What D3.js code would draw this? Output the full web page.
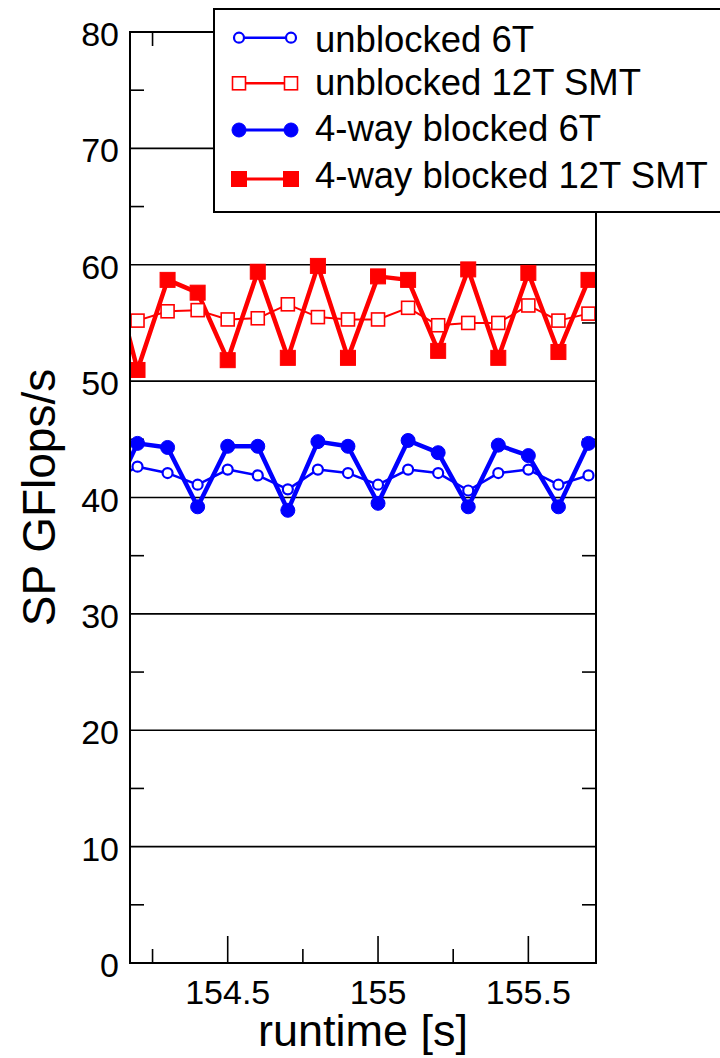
<!DOCTYPE html>
<html lang="en">
<head>
    <meta charset="UTF-8">
    <title>SP GFlops/s vs runtime</title>
    <script src="https://d3js.org/d3.v7.min.js"></script>
    <style>
        body { margin: 0; background: #fff; }
        svg text { font-family: "Liberation Sans", Arial, Helvetica, sans-serif; fill: #000; }
    </style>
</head>
<body>
    <svg id="chart"></svg>
    <script>
        const width = 720;
        const height = 1058;

        // sample times (154.1 lies just left of the visible range, clipped)
        const times = [154.1, 154.2, 154.3, 154.4, 154.5, 154.6, 154.7, 154.8, 154.9,
                       155.0, 155.1, 155.2, 155.3, 155.4, 155.5, 155.6, 155.7];

        const unblocked6T = [41.2, 42.65, 42.1, 41.1, 42.4, 41.9, 40.7, 42.4, 42.1,
                             41.1, 42.4, 42.1, 40.6, 42.1, 42.4, 41.1, 41.9];
        const unblocked12T = [55.8, 55.2, 56.0, 56.1, 55.3, 55.4, 56.6, 55.5, 55.3,
                              55.3, 56.3, 54.8, 55.0, 55.0, 56.5, 55.2, 55.8];
        const blocked6T = [39.2, 44.65, 44.3, 39.2, 44.4, 44.4, 38.9, 44.8, 44.4,
                           39.5, 44.9, 43.85, 39.2, 44.5, 43.6, 39.2, 44.65];
        const blocked12T = [61.0, 50.96, 58.7, 57.6, 51.8, 59.4, 52.0, 59.9, 52.0,
                            59.0, 58.7, 52.6, 59.6, 52.0, 59.3, 52.5, 58.7];

        const xMajor = [154.5, 155, 155.5];
        const xMinor = [154.25, 154.75, 155.25];
        const yMajor = [0, 10, 20, 30, 40, 50, 60, 70, 80];
        const yMinor = [5, 15, 25, 35, 45, 55, 65, 75];

        const seriesNames = ['unblocked 6T', 'unblocked 12T SMT', '4-way blocked 6T', '4-way blocked 12T SMT'];

        const pLeft = 130, pRight = 596, pTop = 32, pBottom = 963;

        const svg = d3.select('#chart')
            .attr('width', width)
            .attr('height', height);

        const x = d3.scaleLinear().domain([154.175, 155.725]).range([pLeft, pRight]);
        const y = d3.scaleLinear().domain([0, 80]).range([pBottom, pTop]);

        const series = [
            { name: seriesNames[0], values: unblocked6T, color: '#0000ff', lw: 2.5, shape: 'circle', filled: false, size: 5 },
            { name: seriesNames[1], values: unblocked12T, color: '#ff0000', lw: 2, shape: 'square', filled: false, size: 13 },
            { name: seriesNames[2], values: blocked6T, color: '#0000ff', lw: 4.5, shape: 'circle', filled: true, size: 7 },
            { name: seriesNames[3], values: blocked12T, color: '#ff0000', lw: 4.5, shape: 'square', filled: true, size: 15 }
        ];
        // filled series underneath, open ones drawn on top
        const drawOrder = [2, 3, 0, 1];

        // gridlines at major y values
        svg.append('g')
            .selectAll('line')
            .data(yMajor.filter(v => v > 0 && v < 80))
            .join('line')
            .attr('x1', pLeft).attr('x2', pRight)
            .attr('y1', d => y(d)).attr('y2', d => y(d))
            .attr('stroke', '#000').attr('stroke-width', 1.6);

        // minor y ticks, left and right
        const ticks = svg.append('g').attr('stroke', '#000').attr('stroke-width', 1.6);
        yMinor.forEach(v => {
            ticks.append('line').attr('x1', pLeft).attr('x2', pLeft + 14).attr('y1', y(v)).attr('y2', y(v));
            ticks.append('line').attr('x1', pRight).attr('x2', pRight - 14).attr('y1', y(v)).attr('y2', y(v));
        });
        // x ticks, bottom and top
        xMajor.forEach(v => {
            ticks.append('line').attr('x1', x(v)).attr('x2', x(v)).attr('y1', pBottom).attr('y2', pBottom - 27);
            ticks.append('line').attr('x1', x(v)).attr('x2', x(v)).attr('y1', pTop).attr('y2', pTop + 27);
        });
        xMinor.forEach(v => {
            ticks.append('line').attr('x1', x(v)).attr('x2', x(v)).attr('y1', pBottom).attr('y2', pBottom - 14);
            ticks.append('line').attr('x1', x(v)).attr('x2', x(v)).attr('y1', pTop).attr('y2', pTop + 14);
        });

        // data
        svg.append('clipPath').attr('id', 'plotClip')
            .append('rect').attr('x', pLeft).attr('y', pTop)
            .attr('width', pRight - pLeft).attr('height', pBottom - pTop);

        const plot = svg.append('g').attr('clip-path', 'url(#plotClip)');
        const line = d3.line().x((d, i) => x(times[i])).y(d => y(d));

        function drawMarker(g, s, cx, cy) {
            if (s.shape === 'circle') {
                g.append('circle')
                    .attr('cx', cx).attr('cy', cy).attr('r', s.size)
                    .attr('fill', s.filled ? s.color : '#fff')
                    .attr('stroke', s.color)
                    .attr('stroke-width', s.filled ? 1 : 2.2);
            } else {
                g.append('rect')
                    .attr('x', cx - s.size / 2).attr('y', cy - s.size / 2)
                    .attr('width', s.size).attr('height', s.size)
                    .attr('fill', s.filled ? s.color : '#fff')
                    .attr('stroke', s.color)
                    .attr('stroke-width', s.filled ? 1 : 1.6);
            }
        }

        drawOrder.forEach(k => {
            const s = series[k];
            plot.append('path')
                .datum(s.values)
                .attr('d', line)
                .attr('fill', 'none')
                .attr('stroke', s.color)
                .attr('stroke-width', s.lw)
                .attr('stroke-linejoin', 'round');
            const mg = plot.append('g');
            s.values.forEach((v, i) => drawMarker(mg, s, x(times[i]), y(v)));
        });

        // frame
        svg.append('rect')
            .attr('x', pLeft).attr('y', pTop)
            .attr('width', pRight - pLeft).attr('height', pBottom - pTop)
            .attr('fill', 'none').attr('stroke', '#000').attr('stroke-width', 2);

        // tick labels
        svg.append('g')
            .selectAll('text')
            .data(xMajor)
            .join('text')
            .attr('x', d => x(d)).attr('y', 1004)
            .attr('text-anchor', 'middle')
            .style('font-size', '34px')
            .text(d => d);

        svg.append('g')
            .selectAll('text')
            .data(yMajor)
            .join('text')
            .attr('x', 119).attr('y', d => y(d) + 14)
            .attr('text-anchor', 'end')
            .style('font-size', '34px')
            .text(d => d);

        // axis titles
        svg.append('text')
            .attr('x', (pLeft + pRight) / 2).attr('y', 1046)
            .attr('text-anchor', 'middle')
            .style('font-size', '45px')
            .text('runtime [s]');

        svg.append('text')
            .attr('transform', 'translate(55,' + ((pTop + pBottom) / 2) + ') rotate(-90)')
            .attr('text-anchor', 'middle')
            .style('font-size', '46px')
            .text('SP GFlops/s');

        // legend
        const legend = svg.append('g');
        legend.append('rect')
            .attr('x', 214).attr('y', 9)
            .attr('width', 540).attr('height', 203)
            .attr('fill', '#fff').attr('stroke', '#000').attr('stroke-width', 2);

        const rowMarkY = [37.7, 83.3, 130, 179];
        const rowTextY = [51.5, 95, 140.5, 188];
        series.forEach((s, i) => {
            const g = legend.append('g');
            g.append('line')
                .attr('x1', 239).attr('x2', 291)
                .attr('y1', rowMarkY[i]).attr('y2', rowMarkY[i])
                .attr('stroke', s.color).attr('stroke-width', s.filled ? 3 : 2.5);
            drawMarker(g, s, 239, rowMarkY[i]);
            drawMarker(g, s, 291, rowMarkY[i]);
            g.append('text')
                .attr('x', 315).attr('y', rowTextY[i])
                .style('font-size', '36.5px')
                .text(s.name);
        });
    </script>
</body>
</html>
